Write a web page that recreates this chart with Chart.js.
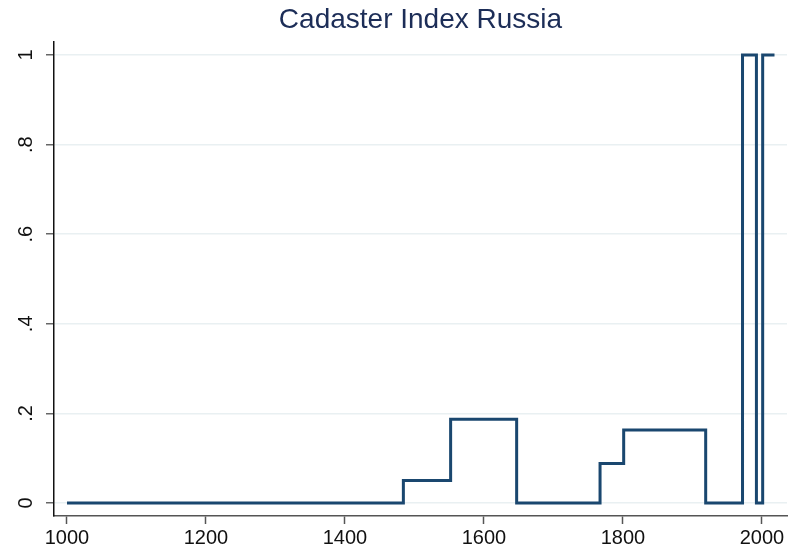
<!DOCTYPE html>
<html>
<head>
<meta charset="utf-8">
<script src="https://cdn.jsdelivr.net/npm/chart.js@4.4.1/dist/chart.umd.min.js"></script>
<style>
  html, body { margin: 0; padding: 0; background: #fff; }
  #wrap { width: 805px; height: 552px; }
</style>
</head>
<body>
<div id="wrap"><canvas id="cadasterChart" width="805" height="552"></canvas></div>
<script>
// year where the index changes, and the value it takes from that year on
const changeYears = [1000, 1484, 1552, 1647, 1767, 1801, 1919, 1972, 1992, 2001, 2018];
const indexValues = [0, 0.05, 0.187, 0, 0.088, 0.163, 0, 1, 0, 1, 1];
const xTicks = [1000, 1200, 1400, 1600, 1800, 2000];
const yTicks = [0, 0.2, 0.4, 0.6, 0.8, 1];
const yTickLabels = ['0', '.2', '.4', '.6', '.8', '1'];
const chartTitle = 'Cadaster Index Russia';

const points = changeYears.map((yr, i) => ({ x: yr, y: indexValues[i] }));

// title centred over the plot region, as the original does
const plotTitle = {
    id: 'plotTitle',
    afterDraw(chart) {
        const { ctx, chartArea } = chart;
        ctx.save();
        ctx.font = '28px "Liberation Sans", Arial, sans-serif';
        ctx.fillStyle = '#1c2d57';
        ctx.textAlign = 'center';
        ctx.textBaseline = 'middle';
        ctx.fillText(chartTitle, (chartArea.left + chartArea.right) / 2, 20);
        ctx.restore();
    }
};

new Chart(document.getElementById('cadasterChart'), {
    type: 'line',
    data: {
        datasets: [{
            data: points,
            stepped: true,
            borderColor: '#1a476f',
            borderWidth: 3,
            pointRadius: 0,
            fill: false
        }]
    },
    options: {
        responsive: false,
        animation: false,
        layout: { padding: { left: 0, right: 18, top: 42, bottom: 0 } },
        plugins: {
            legend: { display: false },
            tooltip: { enabled: false },
            title: { display: false }
        },
        scales: {
            x: {
                type: 'linear',
                min: 981.3,
                max: 2036,
                afterBuildTicks: (s) => { s.ticks = xTicks.map(v => ({ value: v })); },
                afterFit: (s) => { s.height = 36; },
                border: { color: '#555', width: 1.5 },
                grid: { drawOnChartArea: false, tickColor: '#555', tickLength: 8, tickWidth: 1.5 },
                ticks: {
                    color: '#111',
                    padding: 2,
                    maxRotation: 0,
                    font: { family: 'Liberation Sans, Arial, sans-serif', size: 20 },
                    callback: (v) => String(v)
                }
            },
            y: {
                type: 'linear',
                min: -0.029,
                max: 1.029,
                afterBuildTicks: (s) => { s.ticks = yTicks.map(v => ({ value: v })); },
                afterFit: (s) => { s.width = 54; },
                border: { color: '#111', width: 1.5 },
                grid: { color: '#e9f0f2', lineWidth: 1.5, tickColor: '#666', tickLength: 8, tickWidth: 1.5 },
                ticks: {
                    color: '#111',
                    padding: 11,
                    minRotation: 90,
                    maxRotation: 90,
                    crossAlign: 'center',
                    font: { family: 'Liberation Sans, Arial, sans-serif', size: 20 },
                    callback: (v) => {
                        const i = yTicks.findIndex(t => Math.abs(t - v) < 1e-9);
                        return i >= 0 ? yTickLabels[i] : '';
                    }
                }
            }
        }
    },
    plugins: [plotTitle]
});
</script>
</body>
</html>
